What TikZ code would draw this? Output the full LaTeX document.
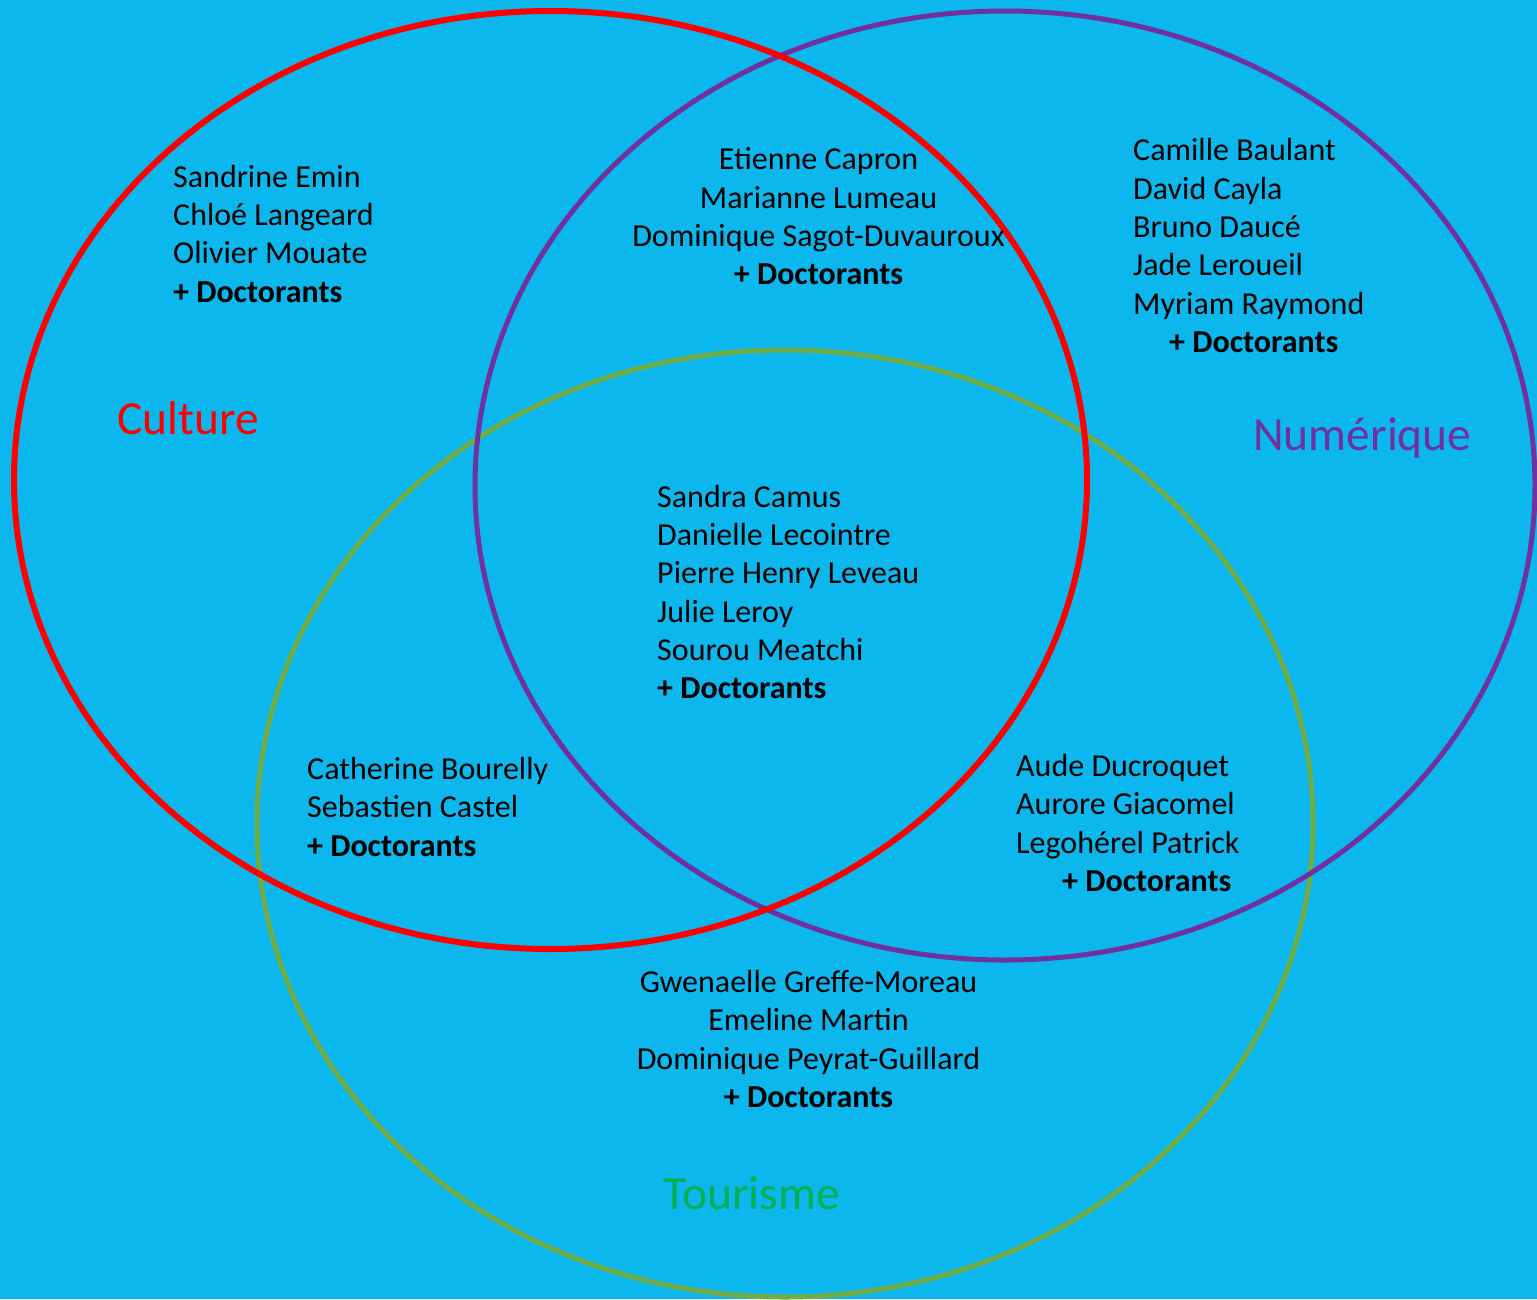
\documentclass[tikz,border=0pt]{standalone}
\usepackage{fontspec}
\setmainfont{Carlito}
\definecolor{bg}{RGB}{11,183,236}
\definecolor{cred}{RGB}{255,0,0}
\definecolor{cpurple}{RGB}{112,48,160}
\definecolor{cgreen}{RGB}{112,173,71}
\definecolor{tgreen}{RGB}{0,176,80}
\begin{document}
\begin{tikzpicture}[x=1pt,y=-1pt,
  namel/.style={anchor=base west, inner sep=0pt, font=\fontsize{32}{38.5}\selectfont, yshift=-1.5pt},
  namec/.style={anchor=base, inner sep=0pt, font=\fontsize{32}{38.5}\selectfont, yshift=-1.5pt},
  setlabel/.style={anchor=base west, inner sep=0pt, font=\fontsize{47.5}{56}\selectfont}]
\fill[bg] (0,0) rectangle (1537,1299);
\useasboundingbox (0,0) rectangle (1537,1299);
% sets
\draw[cgreen, line width=5pt] (785,823.5) ellipse [x radius=528pt, y radius=473.5pt];
\draw[cpurple, line width=5pt] (1005,485.5) ellipse [x radius=530pt, y radius=474.5pt];
\draw[cred, line width=6pt] (550.5,480) ellipse [x radius=536.5pt, y radius=469pt];
% labels
\node[setlabel, text=cred, name=culture] at (117,434) {Culture};
\node[setlabel, text=cpurple, name=numerique] at (1253,450) {Numérique};
\node[setlabel, text=tgreen, name=tourisme] at (663,1209) {Tourisme};
% Culture only
\foreach \t [count=\i] in {Sandrine Emin, Chloé Langeard, Olivier Mouate}
  \node[namel, name=cu\i] at (173,{185.7+38.3*(\i-1)}) {\t};
\node[namel, name=cud] at (173,300.6) {\bfseries + Doctorants};
% Culture & Numerique
\foreach \t [count=\i] in {Etienne Capron, Marianne Lumeau, Dominique Sagot-Duvauroux}
  \node[namec, name=cn\i] at (818.5,{168.3+38.3*(\i-1)}) {\t};
\node[namec, name=cnd] at (818.5,283.2) {\bfseries + Doctorants};
% Numerique only
\foreach \t [count=\i] in {Camille Baulant, David Cayla, Bruno Daucé, Jade Leroueil, Myriam Raymond}
  \node[namel, name=nu\i] at (1133,{159.3+38.3*(\i-1)}) {\t};
\node[namel, name=nud] at (1169,350.8) {\bfseries + Doctorants};
% all three
\foreach \t [count=\i] in {Sandra Camus, Danielle Lecointre, Pierre Henry Leveau, Julie Leroy, Sourou Meatchi}
  \node[namel, name=al\i] at (657,{505.7+38.3*(\i-1)}) {\t};
\node[namel, name=ald] at (657,697.2) {\bfseries + Doctorants};
% Culture & Tourisme
\foreach \t [count=\i] in {Catherine Bourelly, Sebastien Castel}
  \node[namel, name=ct\i] at (307,{778+38.3*(\i-1)}) {\t};
\node[namel, name=ctd] at (307,854.6) {\bfseries + Doctorants};
% Numerique & Tourisme
\foreach \t [count=\i] in {Aude Ducroquet, Aurore Giacomel, Legohérel Patrick}
  \node[namel, name=nt\i] at (1016,{775+38.3*(\i-1)}) {\t};
\node[namel, name=ntd] at (1062,889.9) {\bfseries + Doctorants};
% Tourisme only
\foreach \t [count=\i] in {Gwenaelle Greffe-Moreau, Emeline Martin, Dominique Peyrat-Guillard}
  \node[namec, name=to\i] at (808.5,{991+38.3*(\i-1)}) {\t};
\node[namec, name=tod] at (808.5,1105.9) {\bfseries + Doctorants};
\end{tikzpicture}
\end{document}
